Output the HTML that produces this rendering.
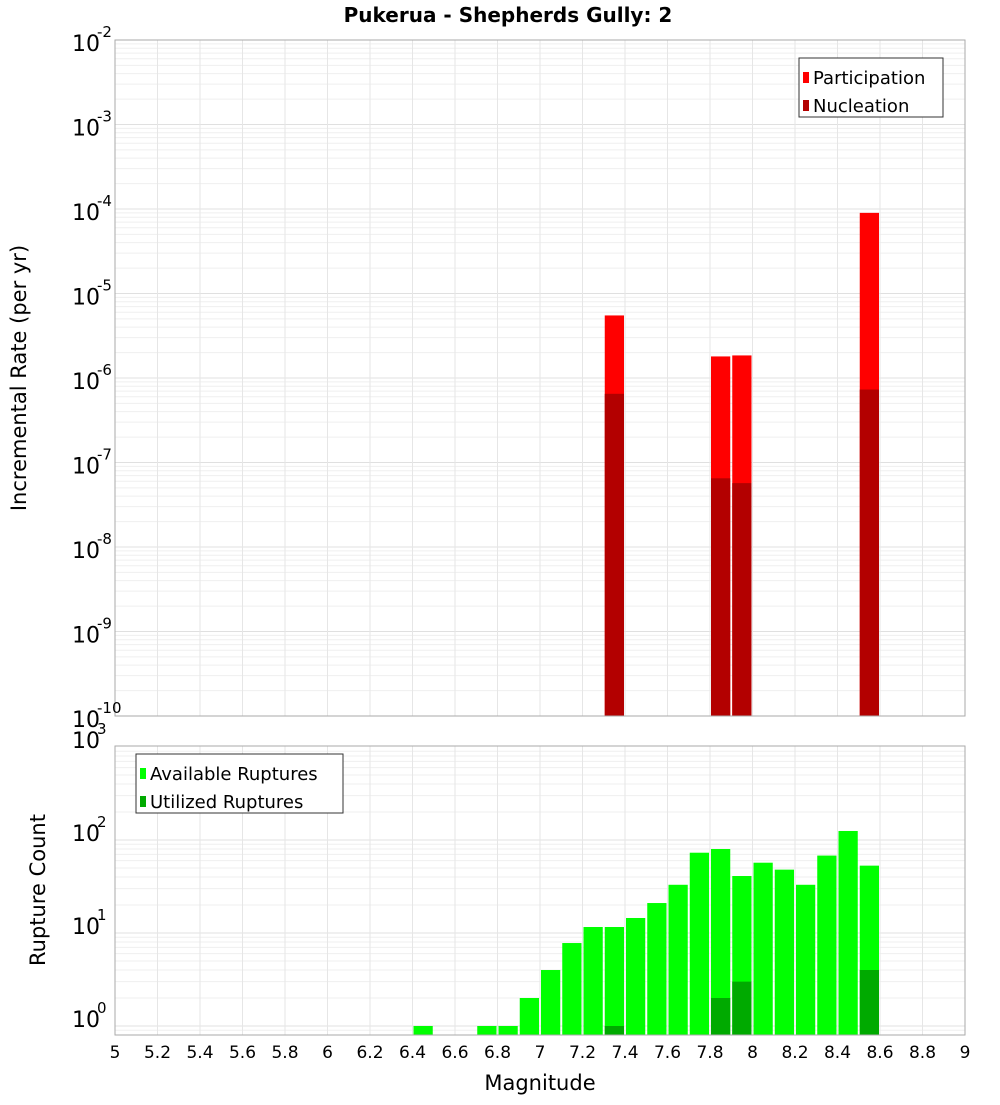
<!DOCTYPE html>
<html><head><meta charset="utf-8"><style>
body{margin:0;background:#fff;font-family:"Liberation Sans","DejaVu Sans",sans-serif}
svg text{font-family:"DejaVu Sans","Liberation Sans",sans-serif}
</style></head><body>
<svg id="c" width="1000" height="1100" xmlns="http://www.w3.org/2000/svg">
<rect width="1000" height="1100" fill="#fff"/>
<text x="508" y="22" text-anchor="middle" font-size="20" font-weight="bold">Pukerua - Shepherds Gully: 2</text>
<g id="topg"></g><g id="botg"></g>
</svg>
<script>
const binStarts = [7.3, 7.8, 7.9, 8.5];
const participation = [5.5e-6, 1.8e-6, 1.85e-6, 9e-5];
const nucleation = [6.5e-7, 6.5e-8, 5.7e-8, 7.3e-7];
const countBins = [6.4,6.7,6.8,6.9,7.0,7.1,7.2,7.3,7.4,7.5,7.6,7.7,7.8,7.9,8.0,8.1,8.2,8.3,8.4,8.5];
const available = [1,1,1,2,4,7.8,11.6,11.6,14.5,21,33,73,80,41,57,48,33,68,125,53];
const utilBins = [7.3,7.8,7.9,8.5];
const utilized = [1,2,3,4];
const xTicks = [5,5.2,5.4,5.6,5.8,6,6.2,6.4,6.6,6.8,7,7.2,7.4,7.6,7.8,8,8.2,8.4,8.6,8.8,9];
const topExps = [-2,-3,-4,-5,-6,-7,-8,-9,-10];
const botExps = [0,1,2,3];

const NS="http://www.w3.org/2000/svg";
function mk(p,t,a,txt){const e=document.createElementNS(NS,t);for(const k in a)e.setAttribute(k,a[k]);if(txt!==undefined)e.textContent=txt;p.appendChild(e);return e;}
const X0=115,X1=965;
const x=v=>X0+(v-5)/4*(X1-X0);
const T0=40,T1=716;
const yt=v=>T0+(-2-Math.log10(v))*(T1-T0)/8;
const B0=746,B1=1035;
const yb=v=>1026-Math.log10(v)*93;
const gTop=document.getElementById('topg'),gBot=document.getElementById('botg');

function grid(g,y0,y1,yf,lo,hi){
  for(let e=lo;e<hi;e++)for(let m=1;m<10;m++){const yy=yf(m*Math.pow(10,e));if(yy<y0||yy>y1)continue;
    const l=mk(g,'line',{x1:X0,x2:X1,y1:yy,y2:yy,stroke:m==1?'#e0e0e0':'#efefef','stroke-width':1});
    }
  xTicks.forEach(t=>{const l=mk(g,'line',{x1:x(t),x2:x(t),y1:y0,y2:y1,stroke:'#e6e6e6','stroke-width':1});
    });
}
grid(gTop,T0,T1,yt,-10,-2);
grid(gBot,B0,B1,yb,-1,3);
const bw=(x(5.1)-x(5))-2;
binStarts.forEach((b,i)=>{
  let r=mk(gTop,'rect',{x:x(b)+1,y:yt(participation[i]),width:bw,height:T1-yt(participation[i]),fill:'#ff0000'});
  
  r=mk(gTop,'rect',{x:x(b)+1,y:yt(nucleation[i]),width:bw,height:T1-yt(nucleation[i]),fill:'#b30000'});
  
});
countBins.forEach((b,i)=>{
  const r=mk(gBot,'rect',{x:x(b)+1,y:yb(available[i]),width:bw,height:B1-yb(available[i]),fill:'#00ff00'});
  
});
utilBins.forEach((b,i)=>{
  const r=mk(gBot,'rect',{x:x(b)+1,y:yb(utilized[i]),width:bw,height:B1-yb(utilized[i]),fill:'#00aa00'});
  
});
let f=mk(gTop,'rect',{x:X0,y:T0,width:X1-X0,height:T1-T0,fill:'none',stroke:'#aaa'});

f=mk(gBot,'rect',{x:X0,y:B0,width:X1-X0,height:B1-B0,fill:'none',stroke:'#aaa'});

topExps.forEach(e=>{const yy=yt(Math.pow(10,e));
  const t=mk(gTop,'text',{x:72,y:yy+11,'font-size':22},'10');
  
  const s=mk(gTop,'text',{x:97,y:yy-3,'font-size':15},String(e));
  });
botExps.forEach(e=>{const yy=yb(Math.pow(10,e))-10;
  const t=mk(gBot,'text',{x:72,y:yy+11,'font-size':22},'10');
  
  const s=mk(gBot,'text',{x:97,y:yy-3,'font-size':15},String(e));
  });
xTicks.forEach(t=>{const l=mk(gBot,'text',{x:x(t),y:1058,'font-size':17,'text-anchor':'middle'},String(t));
  });
let a=mk(gBot,'text',{x:540,y:1090,'font-size':21,'text-anchor':'middle'},'Magnitude');

a=mk(gTop,'text',{x:26,y:378,'font-size':21,'text-anchor':'middle',transform:'rotate(-90 26 378)'},'Incremental Rate (per yr)');

a=mk(gBot,'text',{x:45,y:890,'font-size':21,'text-anchor':'middle',transform:'rotate(-90 45 890)'},'Rupture Count');

function legend(g,lx,ly,w,h,items,name){
  const r=mk(g,'rect',{x:lx,y:ly,width:w,height:h,fill:'#fff',stroke:'#333'});
  
  items.forEach((it,i)=>{const yy=ly+20+i*28;
    const s=mk(g,'rect',{x:lx+4,y:yy-6,width:6,height:11,fill:it[1]});
    
    const t=mk(g,'text',{x:lx+14,y:yy+6,'font-size':18},it[0]);
    });
}
legend(gTop,799,58,144,59,[['Participation','#ff0000'],['Nucleation','#b30000']],'top-legend');
legend(gBot,136,754,207,59,[['Available Ruptures','#00ff00'],['Utilized Ruptures','#00aa00']],'bottom-legend');
</script>
</body></html>
